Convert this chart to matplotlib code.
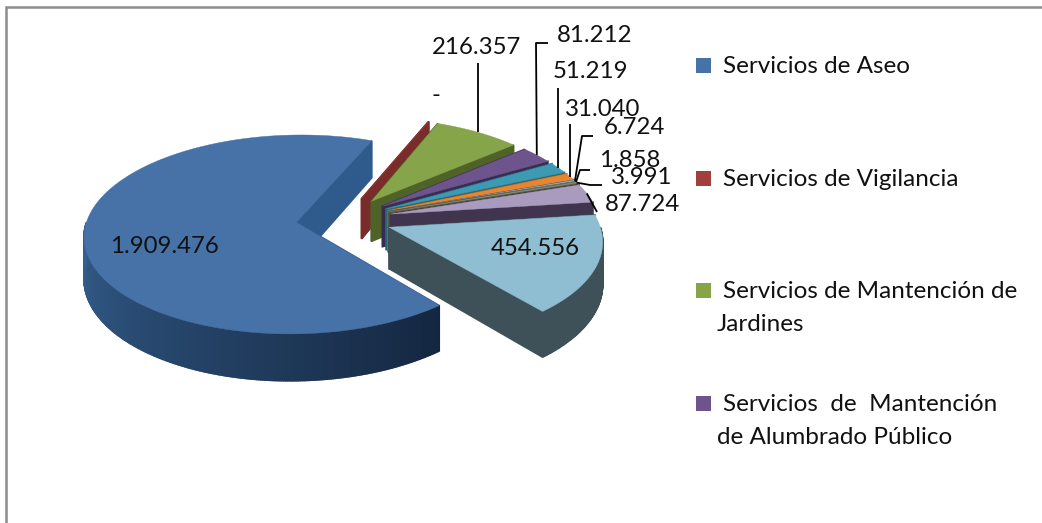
import numpy as np
import matplotlib
matplotlib.use("Agg")
import matplotlib.pyplot as plt

plt.rcParams["font.family"] = ["Lato", "DejaVu Sans"]

values = [1909476, 0, 216357, 81212, 51219, 31040, 6724, 1858, 3991, 87724, 454556]
value_labels = ["1.909.476", "-", "216.357", "81.212", "51.219", "31.040", "6.724",
                "1.858", "3.991", "87.724", "454.556"]
top_colors = ["#4672a8", "#a03f3c", "#86a44a", "#6e548d", "#3c9ab2", "#e8852f",
              "#9db3cf", "#b0b0a8", "#8a8f6c", "#a99bbd", "#8fbdd2"]
wall_colors = ["#2f5b8c", "#7a2c2a", "#4f6228", "#3a2c50", "#26697c", "#a85a1c",
               "#5a6a80", "#60605a", "#555a40", "#40344f", "#3e5158"]
legend_names = ["Servicios de Aseo", "Servicios de Vigilancia",
                "Servicios de Mantención de\nJardines",
                "Servicios  de  Mantención\nde Alumbrado Público"]

# pie geometry, pixels
cx, cy = 344, 219
radius = 209
tilt = 0.465
persp = 0.12
depth = 41
explode = 0.23
start_deg = 140.3  # clockwise from north, where the first slice starts

fig = plt.figure(figsize=(10.42, 5.23), dpi=100)
ax = fig.add_axes([0, 0, 1, 1])
ax.set_xlim(0, 1042)
ax.set_ylim(523, 0)
ax.axis("off")


def project(X, Y, z=0.0):
    s = 1 / (1 + persp * Y)
    return cx + radius * X * s, cy - radius * tilt * Y * s + depth * s * z


def rim(phi, off):
    a = np.radians(phi)
    return off[0] + np.sin(a), off[1] + np.cos(a)


def quad(p1, p2, color):
    # wall between two world points, from the top surface down
    x1, y1 = project(*p1)
    x2, y2 = project(*p2)
    x3, y3 = project(*p2, 1)
    x4, y4 = project(*p1, 1)
    ax.fill([x1, x2, x3, x4], [y1, y2, y3, y4], color=color, lw=1.2)


total = sum(values)
angles = np.array(values) / total * 360
edges = start_deg + np.concatenate([[0], np.cumsum(angles)])

anchors = []
main_shade = [(53, 96, 143), (20, 38, 63)]

for i in range(len(values)):
    a0, a1 = edges[i], edges[i + 1]
    mid = np.radians((a0 + a1) / 2)
    off = (explode * np.sin(mid), explode * np.cos(mid))
    anchors.append(project(*rim((a0 + a1) / 2, off)))

    # cut faces
    quad(off, rim(a0, off), wall_colors[i])
    quad(off, rim(a1, off), wall_colors[i])

    # outer wall, only the part that faces the viewer
    phis = np.linspace(a0, a1, max(2, int(a1 - a0) * 2))
    for p0, p1 in zip(phis[:-1], phis[1:]):
        m = (p0 + p1) / 2 % 360
        if m < 90 or m > 270:
            continue
        if i == 0:
            t = (270 - m) / 130
            color = tuple((main_shade[0][c] + (main_shade[1][c] - main_shade[0][c]) * t) / 255
                          for c in range(3))
        else:
            color = wall_colors[i]
        quad(rim(p0, off), rim(p1, off), color)

    # top face
    pts = [project(*off)] + [project(*rim(p, off)) for p in phis]
    ax.fill([p[0] for p in pts], [p[1] for p in pts], color=top_colors[i], lw=0.3)

# value labels
label_pos = [(164, 253), (436, 102), (477, 54), (595, 42), (590, 78), (603, 116),
             (634, 134), (630, 167), (642, 184), (643, 211), (535, 255)]
for txt, (x, y) in zip(value_labels, label_pos):
    ax.text(x, y, txt, fontsize=17.3, ha="center", va="baseline", color="#111111")

# leader lines, from the label to the slice; a None x means straight above the slice
elbows = {2: [(None, 63)], 3: [(548, 43), (536, 43)], 4: [(None, 88)], 5: [(None, 124)],
          6: [(593, 136), (582, 136)], 7: [(590, 170), (580, 170)], 8: [(602, 185), (590, 185)],
          9: [(597, 212)]}
for i, pts in elbows.items():
    xs = [anchors[i][0] if p[0] is None else p[0] for p in pts] + [anchors[i][0]]
    ys = [p[1] for p in pts] + [anchors[i][1]]
    ax.plot(xs, ys, color="black", lw=1.3, solid_capstyle="butt")

# legend
legend_y = [73, 186, 298, 411]
for i, (name, y) in enumerate(zip(legend_names, legend_y)):
    ax.fill([696, 711, 711, 696], [y - 15, y - 15, y, y], color=top_colors[i], lw=0)
    lines = name.split("\n")
    ax.text(723, y, lines[0], fontsize=17.5, va="baseline", color="#111111")
    if len(lines) > 1:
        ax.text(717, y + 33, lines[1], fontsize=17.5, va="baseline", color="#111111")

# chart frame, runs off the picture on the right and at the bottom
ax.plot([5.5, 5.5, 1042], [523, 6.5, 6.5], color="#8c8c8c", lw=1.8, solid_joinstyle="miter")

fig.savefig("out.png", dpi=100)
